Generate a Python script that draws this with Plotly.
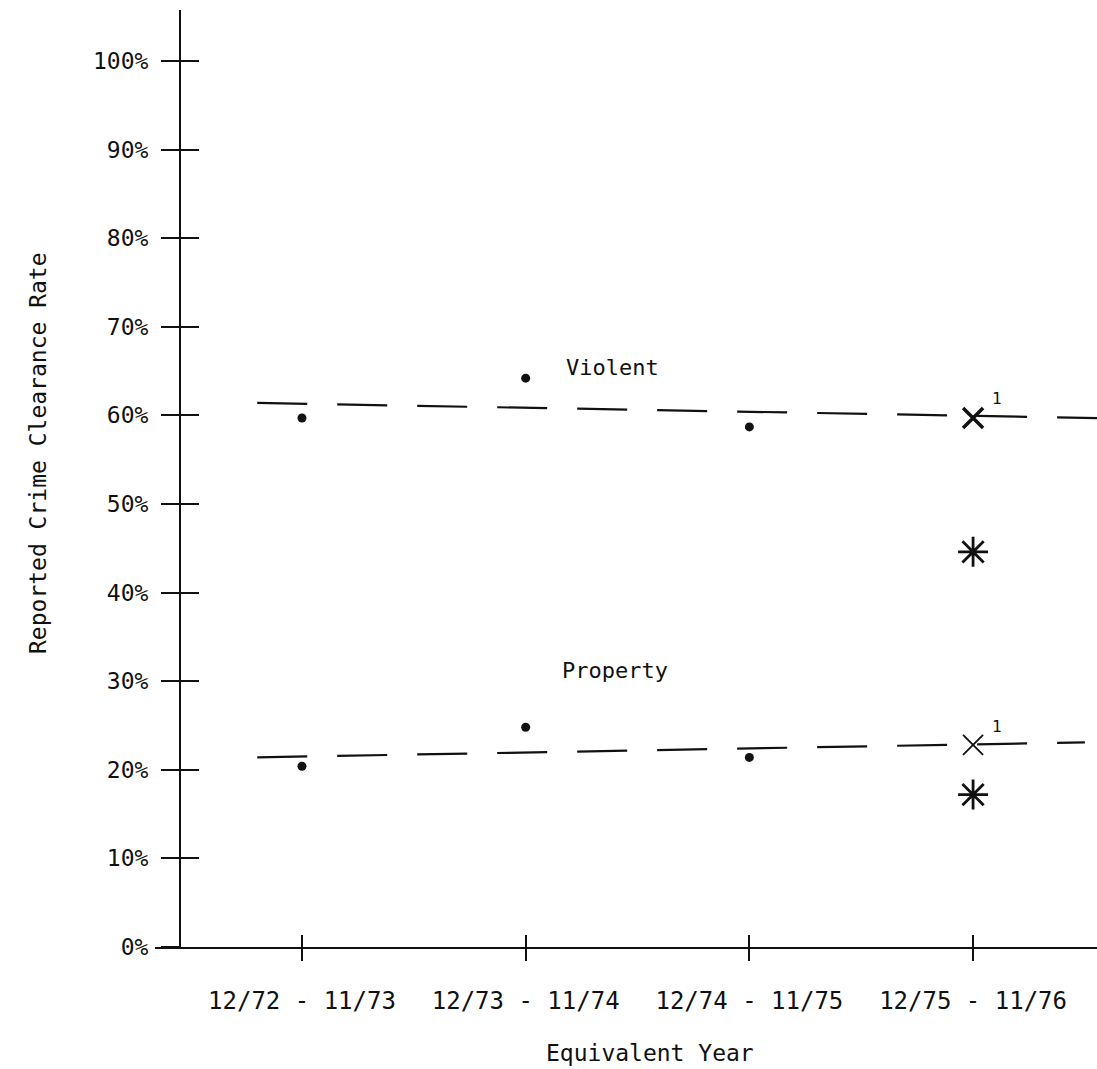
import plotly.graph_objects as go

# ---------------- data ----------------
categories = ["12/72 - 11/73", "12/73 - 11/74", "12/74 - 11/75", "12/75 - 11/76"]
cat_index = [0, 1, 2, 3]

violent_dots = [59.7, 64.2, 58.7]          # first three years
violent_x_1976 = [59.7]                    # "X" marker, footnote 1
violent_star_1976 = [44.6]                 # asterisk marker

property_dots = [20.4, 24.8, 21.4]
property_x_1976 = [22.8]
property_star_1976 = [17.2]

violent_trend_x = [-0.2, 3.554]
violent_trend_y = [61.4, 59.7]
property_trend_x = [-0.2, 3.50]
property_trend_y = [21.4, 23.1]

y_ticks = [0, 10, 20, 30, 40, 50, 60, 70, 80, 90, 100]
y_ticktext = [f"{v}%" for v in y_ticks]

# ---------------- layout constants ----------------
W, H = 1097, 1069
ML, MR, MT, MB = 0, 0, 10, 122
FONT = "DejaVu Sans Mono"
INK = "#111111"
X_RANGE = [-0.657, 3.554]
Y_RANGE = [0, 105.75]
Y_AXIS_POS = 180 / W

fig = go.Figure()

dash_style = dict(color=INK, width=2.2, dash="50px,30px")
fig.add_trace(go.Scatter(x=violent_trend_x, y=violent_trend_y, mode="lines",
                         line=dash_style, xaxis="x2", yaxis="y2",
                         hoverinfo="skip", showlegend=False))
fig.add_trace(go.Scatter(x=property_trend_x, y=property_trend_y, mode="lines",
                         line=dash_style, xaxis="x2", yaxis="y2",
                         hoverinfo="skip", showlegend=False))

dot = dict(symbol="circle", size=9, color=INK)
fig.add_trace(go.Scatter(x=cat_index[:3], y=violent_dots, mode="markers",
                         marker=dot, name="Violent", showlegend=False))
fig.add_trace(go.Scatter(x=cat_index[:3], y=property_dots, mode="markers",
                         marker=dot, name="Property", showlegend=False))

fig.add_trace(go.Scatter(x=cat_index[3:], y=violent_x_1976, mode="markers",
                         marker=dict(symbol="x-thin", size=20,
                                     line=dict(color=INK, width=3.5)),
                         showlegend=False))
fig.add_trace(go.Scatter(x=cat_index[3:], y=property_x_1976, mode="markers",
                         marker=dict(symbol="x-thin", size=20,
                                     line=dict(color=INK, width=1.8)),
                         showlegend=False))
star = dict(symbol="asterisk", size=25, line=dict(color=INK, width=2.8))
fig.add_trace(go.Scatter(x=cat_index[3:], y=violent_star_1976, mode="markers",
                         marker=star, showlegend=False))
fig.add_trace(go.Scatter(x=cat_index[3:], y=property_star_1976, mode="markers",
                         marker=star, showlegend=False))

annotations = [
    dict(x=1.39, y=65.35, xref="x", yref="y", text="Violent", showarrow=False,
         font=dict(family=FONT, size=22, color=INK)),
    dict(x=1.40, y=31.15, xref="x", yref="y", text="Property", showarrow=False,
         font=dict(family=FONT, size=22, color=INK)),
    dict(x=cat_index[3], y=violent_x_1976[0], xref="x", yref="y", text="1",
         showarrow=False, xshift=24, yshift=20,
         font=dict(family=FONT, size=16, color=INK)),
    dict(x=cat_index[3], y=property_x_1976[0], xref="x", yref="y", text="1",
         showarrow=False, xshift=24, yshift=18,
         font=dict(family=FONT, size=16, color=INK)),
    dict(x=38 / W, y=(H - MB - 453) / (H - MT - MB), xref="paper", yref="paper",
         xanchor="center", yanchor="middle",
         text="Reported Crime Clearance Rate", textangle=-90, showarrow=False,
         font=dict(family=FONT, size=23, color=INK)),
    dict(x=650 / W, y=(H - MB - 1053) / (H - MT - MB), xref="paper", yref="paper",
         xanchor="center", yanchor="middle",
         text="Equivalent Year", showarrow=False,
         font=dict(family=FONT, size=23, color=INK)),
]

axis_common = dict(showgrid=False, zeroline=False)
fig.update_layout(
    width=W, height=H,
    margin=dict(l=ML, r=MR, t=MT, b=MB, pad=0),
    paper_bgcolor="white", plot_bgcolor="white",
    showlegend=False,
    xaxis=dict(domain=[155 / W, 1], range=X_RANGE, anchor="y",
               tickmode="array", tickvals=cat_index, ticktext=categories,
               ticks="outside", ticklen=12, tickwidth=2, tickcolor=INK,
               showline=True, linewidth=2, linecolor=INK,
               ticklabelstandoff=19,
               tickfont=dict(family=FONT, size=24, color=INK), **axis_common),
    xaxis2=dict(domain=[155 / W, 1], range=X_RANGE, anchor="y2", overlaying="x",
                tickmode="array", tickvals=cat_index,
                ticks="inside", ticklen=12, tickwidth=2, tickcolor=INK,
                showticklabels=False, showline=False, **axis_common),
    yaxis=dict(domain=[0, 1], range=Y_RANGE, anchor="free", position=Y_AXIS_POS,
               tickmode="array", tickvals=y_ticks, ticktext=y_ticktext,
               ticks="outside", ticklen=18, tickwidth=2, tickcolor=INK,
               showline=True, linewidth=2, linecolor=INK,
               ticklabelstandoff=8,
               tickfont=dict(family=FONT, size=23, color=INK), **axis_common),
    yaxis2=dict(domain=[0, 1], range=Y_RANGE, anchor="free", position=Y_AXIS_POS,
                overlaying="y", tickmode="array", tickvals=y_ticks,
                ticks="inside", ticklen=18, tickwidth=2, tickcolor=INK,
                showticklabels=False, showline=False, **axis_common),
    annotations=annotations,
)

fig.write_html("out.html")
